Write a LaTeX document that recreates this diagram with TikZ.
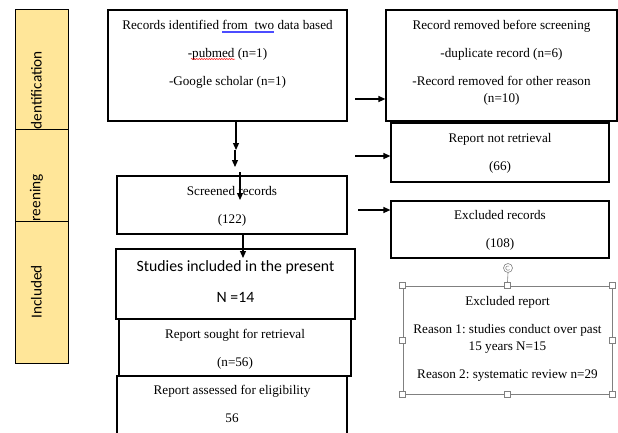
\documentclass[tikz,border=0pt]{standalone}
\usepackage{fontspec}
\setmainfont{Liberation Serif}
\newfontfamily\sansf{Carlito}
\usepackage{tikz}
\usetikzlibrary{arrows.meta, positioning, decorations.pathmorphing}
\definecolor{stagefill}{RGB}{255,230,153}
\definecolor{handlegray}{RGB}{128,128,128}
\frenchspacing

\begin{document}
\begin{tikzpicture}[x=1bp, y=-1bp,
    box/.style={draw, line width=1.2bp, inner sep=0pt},
    stagebox/.style={draw, line width=0.8bp, fill=stagefill, minimum width=53bp, inner sep=0pt},
    stagelbl/.style={rotate=90, font=\sansf\fontsize{15.3}{17}\selectfont, inner sep=0pt},
    txt/.style={align=center, inner sep=0pt, font=\fontsize{13.2}{28}\selectfont},
    arr/.style={line width=1.2bp, -{Triangle[length=7bp, width=6bp]}},
    handle/.style={draw=handlegray, fill=white, line width=0.6bp, minimum size=6bp, inner sep=0pt}]
    \useasboundingbox (0,0) rectangle (618,432);

    % Stage bar on the left
    \node[stagebox, minimum height=120bp] (ident) at (41.5,69) {};
    \node[stagebox, minimum height=92bp] (screen) at (41.5,175) {};
    \node[stagebox, minimum height=142bp] (incl) at (41.5,292) {};
    \node[stagelbl, anchor=west] (identlbl) at ([xshift=-5bp]ident.south) {dentification};
    \node[stagelbl, anchor=west] (screenlbl) at ([xshift=-5bp]screen.south) {reening};
    \node[stagelbl] (incllbl) at ([xshift=-5bp]incl.center) {Included};

    % Boxes
    \node[box, minimum width=239bp, minimum height=111bp] (records) at (227.5,65.5) {};
    \node[box, minimum width=231bp, minimum height=111bp] (removed) at (501.5,65.5) {};
    \node[box, minimum width=218bp, minimum height=59bp] (notretr) at (500,152.5) {};
    \node[box, minimum width=218bp, minimum height=57bp] (exclrec) at (500,229.5) {};
    \node[box, minimum width=230bp, minimum height=58bp] (screened) at (232,205) {};
    \node[box, minimum width=239bp, minimum height=70bp] (included) at (235.5,284) {};
    \node[box, minimum width=232bp, minimum height=57bp] (sought) at (235,347.5) {};
    \node[box, minimum width=230bp, minimum height=60bp] (assessed) at (232,406) {};
    \node[draw=handlegray, line width=0.9bp, minimum width=209bp, minimum height=108bp, inner sep=0pt] (exclrep) at (507.5,340) {};

    % Texts
    \node[txt, below=11bp of records.north] (recordstxt)
        {Records identified from\ \ two data based\\ -pubmed (n=1)\\ -Google scholar (n=1)};
    \node[txt, below=11bp of removed.north] (removedtxt)
        {Record removed before screening\\ -duplicate record (n=6)\\ -Record removed for other reason\\[-11bp] (n=10)};
    \node[txt, below=11bp of notretr.north] (notretrtxt) {Report not retrieval\\ (66)};
    \node[txt, below=10bp of exclrec.north] (exclrectxt) {Excluded records\\ (108)};
    \node[txt, below=11bp of screened.north] (screenedtxt) {Screened records\\ (122)};
    \node[txt, font=\sansf\fontsize{15.8}{31}\selectfont, below=12bp of included.north] (includedtxt)
        {Studies included in the present\\ N =14};
    \node[txt, below=11bp of sought.north] (soughttxt) {Report sought for retrieval\\ (n=56)};
    \node[txt, below=10bp of assessed.north] (assessedtxt) {Report assessed for eligibility\\ 56};
    \node[txt, below=11bp of exclrep.north] (exclreptxt)
        {Excluded report\\ Reason 1: studies conduct over past\\[-11bp] 15 years N=15\\ Reason 2: systematic review n=29};

    % Spell check marks
    \draw[blue!70, line width=0.5bp] (222,31) -- (274,31);
    \draw[blue!70, line width=0.5bp] (222,32.5) -- (274,32.5);
    \draw[red, line width=0.5bp, decorate, decoration={snake, amplitude=0.6bp, segment length=2.5bp}] (191,59) -- (235,59);

    % Arrows
    \coordinate (a1) at (355,99);
    \coordinate (a2) at (355,156);
    \coordinate (a3) at (358,210);
    \draw[arr] (a1) -- (a1 -| removed.west);
    \draw[arr] (a2) -- (a2 -| notretr.west);
    \draw[arr] (a3) -- (a3 -| exclrec.west);

    \coordinate (d1) at (236,150);
    \coordinate (d2) at (235,167);
    \coordinate (d3) at (240,172);
    \coordinate (d4) at (240,200);
    \coordinate (d5) at (243,258);
    \draw[arr] (d1 |- records.south) -- (d1);
    \draw[arr] (d1 -| d2) -- (d2);
    \draw[arr] (d3) -- (d4);
    \draw[arr] (d5 |- screened.south) -- (d5);

    % Selection handles
    \foreach \hx in {west, center, east} {
        \node[handle] (h-n-\hx) at (exclrep.north -| exclrep.\hx) {};
        \node[handle] (h-s-\hx) at (exclrep.south -| exclrep.\hx) {};
    }
    \node[handle] (h-w) at (exclrep.west) {};
    \node[handle] (h-e) at (exclrep.east) {};
    \node[draw=handlegray, fill=white, circle, line width=0.6bp, minimum size=9bp, inner sep=0pt] (rot) at (508,268) {};
    \draw[handlegray, line width=0.5bp] ([shift={(1.6bp,-1.6bp)}]rot.center) arc[start angle=-45, end angle=-300, radius=2.3bp];
    \draw[handlegray, line width=0.6bp] (rot.south) -- (h-n-center.north);
\end{tikzpicture}
\end{document}
